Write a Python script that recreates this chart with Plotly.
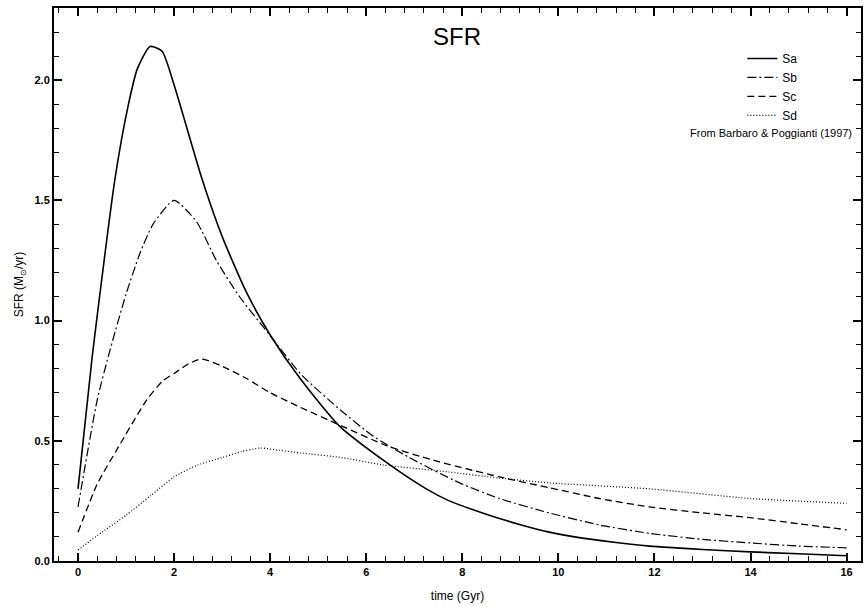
import plotly.graph_objects as go

# Data (time in Gyr, SFR in Msun/yr)
sa_t = [0, 0.29, 0.77, 1.04, 1.24, 1.5, 1.75, 2.0, 2.58, 3.0, 3.5, 4.0, 4.62, 5.45, 6.42, 7.25, 7.73, 8.42, 9.19, 9.81, 10.5, 11.2, 11.9, 13.0, 14.0, 15.0, 16.0]
sa_y = [0.30, 0.84, 1.59, 1.89, 2.05, 2.14, 2.12, 1.98, 1.59, 1.35, 1.12, 0.94, 0.76, 0.56, 0.41, 0.30, 0.25, 0.20, 0.152, 0.12, 0.095, 0.077, 0.062, 0.048, 0.038, 0.03, 0.022]

sb_t = [0, 0.4, 0.67, 1.0, 1.29, 1.56, 2.0, 2.47, 2.88, 3.36, 3.95, 4.65, 5.51, 6.14, 6.9, 7.94, 8.77, 9.81, 10.85, 11.9, 13.0, 14.0, 15.0, 16.0]
sb_y = [0.225, 0.67, 0.88, 1.11, 1.28, 1.40, 1.50, 1.41, 1.25, 1.10, 0.95, 0.775, 0.62, 0.52, 0.43, 0.325, 0.26, 0.20, 0.15, 0.115, 0.09, 0.075, 0.062, 0.055]

sc_t = [0, 0.4, 0.8, 1.43, 1.77, 2.0, 2.3, 2.58, 3.0, 3.5, 4.0, 4.62, 5.45, 6.42, 7.38, 8.77, 9.81, 10.85, 11.9, 13.0, 14.0, 15.0, 16.0]
sc_y = [0.12, 0.32, 0.46, 0.67, 0.75, 0.78, 0.82, 0.84, 0.81, 0.76, 0.70, 0.64, 0.565, 0.48, 0.42, 0.35, 0.305, 0.26, 0.225, 0.20, 0.18, 0.155, 0.13]

sd_t = [0, 0.5, 1.0, 1.5, 2.0, 2.5, 3.0, 3.4, 3.8, 4.2, 4.62, 5.5, 6.34, 7.73, 8.77, 9.81, 11.9, 14.0, 16.0]
sd_y = [0.046, 0.12, 0.19, 0.27, 0.35, 0.40, 0.43, 0.455, 0.47, 0.46, 0.45, 0.43, 0.40, 0.37, 0.345, 0.325, 0.30, 0.26, 0.24]

series = [
    ("Sa", sa_t, sa_y, "solid", 1.6),
    ("Sb", sb_t, sb_y, "9px,3px,2px,3px", 1.2),
    ("Sc", sc_t, sc_y, "7px,4px", 1.3),
    ("Sd", sd_t, sd_y, "1px,2px", 1.2),
]

fig = go.Figure()
for name, t, y, dash, w in series:
    fig.add_trace(go.Scatter(x=t, y=y, mode="lines", name=name,
                             line=dict(color="black", width=w, dash=dash, shape="spline", smoothing=0.6)))

font_family = "Liberation Sans, Arial, Helvetica, sans-serif"

fig.update_layout(
    width=865, height=607,
    margin=dict(l=54, r=2, t=8, b=46),
    paper_bgcolor="white", plot_bgcolor="white",
    font=dict(family=font_family, color="black", size=12),
    showlegend=True,
    legend=dict(x=0.853, y=0.935, xanchor="left", yanchor="top",
                bgcolor="rgba(0,0,0,0)", font=dict(size=12), tracegroupgap=0,
                itemwidth=30),
    annotations=[
        dict(text="SFR", x=(458 - 54) / 809, y=1 - (37 - 8) / 553, xref="paper", yref="paper",
             showarrow=False, yanchor="middle", font=dict(size=24)),
        dict(text="From Barbaro &amp; Poggianti (1997)", x=(856 - 54) / 809, y=1 - (133 - 8) / 553,
             xref="paper", yref="paper", xanchor="right", yanchor="middle",
             showarrow=False, font=dict(size=11)),
    ],
)

fig.update_xaxes(
    range=[-0.5, 16.3], tickmode="linear", tick0=0, dtick=2,
    ticks="inside", ticklen=8, tickwidth=2, tickcolor="black",
    minor=dict(tick0=0, dtick=0.4, ticks="inside", ticklen=5, tickwidth=1.2, tickcolor="black"),
    showline=True, linewidth=2, linecolor="black", mirror="allticks",
    showgrid=False, zeroline=False,
    tickfont=dict(size=11, weight="bold"),
    title=dict(text="time (Gyr)", font=dict(size=12), standoff=14),
)
fig.update_yaxes(
    range=[0, 2.3], tickmode="linear", tick0=0, dtick=0.5, tickformat=".1f",
    ticks="inside", ticklen=8, tickwidth=2, tickcolor="black",
    minor=dict(tick0=0, dtick=0.1, ticks="inside", ticklen=5, tickwidth=1.2, tickcolor="black"),
    showline=True, linewidth=2, linecolor="black", mirror="allticks",
    showgrid=False, zeroline=False,
    tickfont=dict(size=11, weight="bold"),
    title=dict(text="SFR (M<sub>⊙</sub>/yr)", font=dict(size=12), standoff=8),
)

fig.write_html("out.html", config={"displayModeBar": False},
               post_script="document.body.style.margin='0';document.body.style.overflow='hidden';")
